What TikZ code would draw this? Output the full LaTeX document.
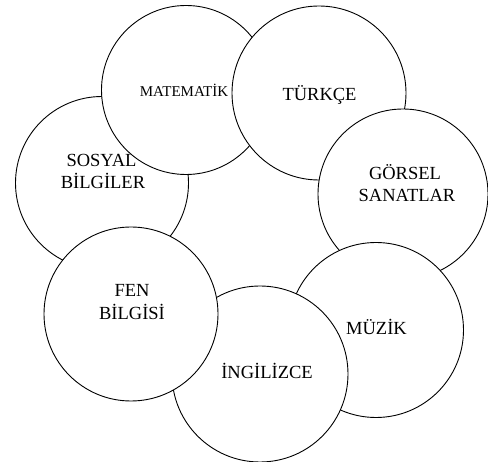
\documentclass[tikz,border=0pt]{standalone}
\usepackage{fontspec}
\setmainfont{Liberation Serif}
\begin{document}
\begin{tikzpicture}[x=1pt,y=-1pt,
  disc/.style={circle,draw=black,fill=white,line width=0.9pt,inner sep=0pt,outer sep=0pt},
  lbl/.style={font=\fontsize{18.5}{22.5}\selectfont,inner sep=0pt,anchor=base},
  lblsmall/.style={font=\fontsize{15}{18}\selectfont,inner sep=0pt,anchor=base}]
\useasboundingbox (0,0) rectangle (488,462);
% circles, bottom to top
\node[disc,minimum size=173pt] (sos) at (102,183) {};
\node[disc,minimum size=169pt] (mat) at (186,90) {};
\node[disc,minimum size=174pt] (tur) at (319,93) {};
\node[disc,minimum size=170pt] (gor) at (403,194) {};
\node[disc,minimum size=175pt] (muz) at (376,330) {};
\node[disc,minimum size=176pt] (ing) at (260,374) {};
\node[disc,minimum size=174pt] (fen) at (131,314) {};
% labels
\node[lblsmall] (matT) at (184,97) {MATEMATİK};
\node[lbl] (turT) at (319.5,100.7) {TÜRKÇE};
\node[lbl] (sosT1) at (101.5,166.5) {SOSYAL};
\node[lbl] (sosT2) at (103,188.3) {BİLGİLER};
\node[lbl] (gorT1) at (405,180) {GÖRSEL};
\node[lbl] (gorT2) at (407,202) {SANATLAR};
\node[lbl] (fenT1) at (132,297) {FEN};
\node[lbl] (fenT2) at (132,320) {BİLGİSİ};
\node[lbl] (muzT) at (376.5,335) {MÜZİK};
\node[lbl] (ingT) at (267,379) {İNGİLİZCE};
\end{tikzpicture}
\end{document}
